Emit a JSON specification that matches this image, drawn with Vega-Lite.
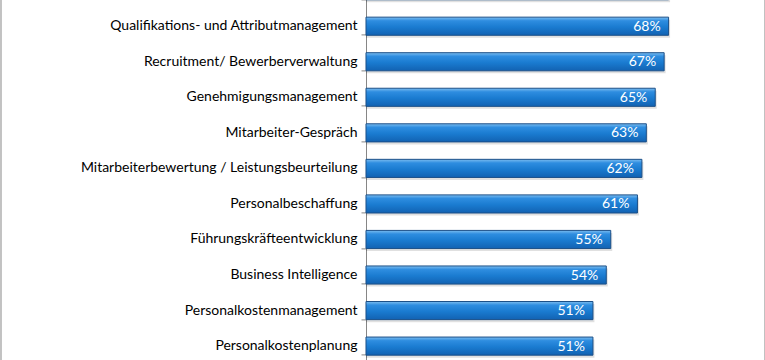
{
  "$schema": "https://vega.github.io/schema/vega-lite/v6.json",
  "autosize": {"type": "none"},
  "width": 764,
  "height": 391,
  "padding": {"left": 0.5, "top": -27.6, "right": 0.5, "bottom": 0},
  "background": "white",
  "config": {
    "view": {"stroke": "#868686", "strokeWidth": 1},
    "font": "Lato"
  },
  "data": {
    "values": [
      {"kategorie": "Personalentwicklung", "anteil": 0.68},
      {"kategorie": "Qualifikations- und Attributmanagement", "anteil": 0.68},
      {"kategorie": "Recruitment/ Bewerberverwaltung", "anteil": 0.67},
      {"kategorie": "Genehmigungsmanagement", "anteil": 0.65},
      {"kategorie": "Mitarbeiter-Gespräch", "anteil": 0.63},
      {"kategorie": "Mitarbeiterbewertung / Leistungsbeurteilung", "anteil": 0.62},
      {"kategorie": "Personalbeschaffung", "anteil": 0.61},
      {"kategorie": "Führungskräfteentwicklung", "anteil": 0.55},
      {"kategorie": "Business Intelligence", "anteil": 0.54},
      {"kategorie": "Personalkostenmanagement", "anteil": 0.51},
      {"kategorie": "Personalkostenplanung", "anteil": 0.51}
    ]
  },
  "encoding": {
    "y": {
      "field": "kategorie",
      "type": "nominal",
      "sort": null,
      "scale": {"paddingInner": 0.49, "paddingOuter": 0.245},
      "axis": {
        "title": null,
        "offset": -365.5,
        "tickBand": "extent",
        "tickSize": 5,
        "tickColor": "#868686",
        "domainColor": "#868686",
        "labelColor": "#000000",
        "labelFontSize": 14,
        "labelFont": "Lato",
        "labelPadding": 4,
        "labelLimit": 400
      }
    },
    "x": {
      "field": "anteil",
      "type": "quantitative",
      "scale": {"domain": [-0.8213, 0.8955], "nice": false, "zero": false},
      "axis": null
    }
  },
  "layer": [
    {
      "mark": {
        "type": "bar",
        "color": "#000000",
        "opacity": 0.12,
        "xOffset": 1.5,
        "yOffset": 3
      },
      "encoding": {"x2": {"datum": 0}}
    },
    {
      "mark": {
        "type": "bar",
        "stroke": "#1b4f88",
        "strokeWidth": 1,
        "yOffset": 0.5,
        "color": {
          "gradient": "linear",
          "x1": 0, "y1": 0, "x2": 0, "y2": 1,
          "stops": [
            {"offset": 0, "color": "#7cbdf0"},
            {"offset": 0.2, "color": "#2e8de0"},
            {"offset": 0.55, "color": "#1a7bd0"},
            {"offset": 1, "color": "#1262b2"}
          ]
        }
      },
      "encoding": {"x2": {"datum": 0}}
    },
    {
      "mark": {
        "type": "text",
        "align": "right",
        "baseline": "middle",
        "dx": -8,
        "dy": 1,
        "color": "white",
        "fontSize": 14,
        "font": "Lato"
      },
      "encoding": {
        "text": {"field": "anteil", "type": "quantitative", "format": ".0%"}
      }
    }
  ]
}
